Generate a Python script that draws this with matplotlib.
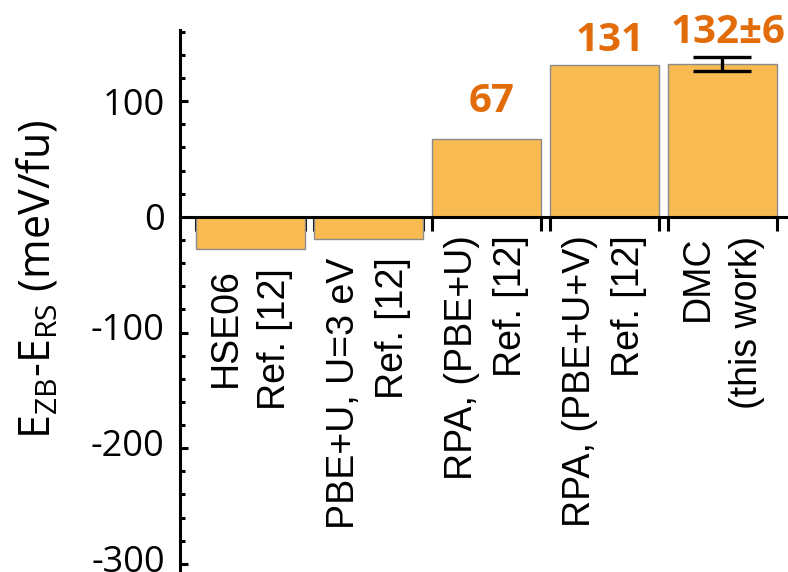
import numpy as np
import matplotlib
matplotlib.use('Agg')
from matplotlib import pyplot as plt
from matplotlib.ticker import MultipleLocator, NullFormatter
from matplotlib.transforms import ScaledTranslation

# zinc-blende vs rock-salt energy difference for each method
methods = ['HSE06\nRef. [12]',
           'PBE+U, U=3 eV\nRef. [12]',
           'RPA, (PBE+U)\nRef. [12]',
           'RPA, (PBE+U+V)\nRef. [12]',
           'DMC\n(this work)']
dE = [-28, -19, 67, 131, 132]
dE_err = [0, 0, 0, 0, 6]
value_text = [None, None, '67', '131', '132±6']

bar_color = '#F8BB52'
text_orange = '#E36C0A'

plt.rcParams['mathtext.fontset'] = 'custom'
plt.rcParams['mathtext.rm'] = 'Open Sans'
plt.rcParams['mathtext.it'] = 'Open Sans'
plt.rcParams['axes.unicode_minus'] = False

fig = plt.figure(figsize=(7.88, 5.72), dpi=100)
ax = fig.add_axes([180/788, 0, 608/788, 542/572])

x = np.arange(len(dE))
w = 0.92
ax.bar(x, dE, width=w, color=bar_color, edgecolor='#8c8c8c', linewidth=1.0, zorder=2)
ax.errorbar(x[-1], dE[-1], yerr=dE_err[-1], fmt='none', ecolor='black',
            elinewidth=2.4, capsize=21, capthick=2.4, zorder=4)

ax.set_xlim(-0.596, 4.557)
ax.set_ylim(-307, 161.5)

# axes: only left spine and a baseline through zero
for s in ['top', 'right']:
    ax.spines[s].set_visible(False)
ax.spines['bottom'].set_position(('data', 0))
ax.spines['bottom'].set_zorder(5)
ax.spines['bottom'].set_linewidth(2.2)
ax.spines['left'].set_linewidth(2.2)

# little ticks on both edges of every bar
edges = np.sort(np.concatenate([x - w/2, x + w/2]))
ax.set_xticks(edges)
ax.xaxis.set_major_formatter(NullFormatter())
ax.tick_params(axis='x', direction='out', length=10, width=2.2)

ax.yaxis.set_major_locator(MultipleLocator(100))
ax.yaxis.set_minor_locator(MultipleLocator(20))
ax.tick_params(axis='y', which='major', direction='in', length=6, width=2.2,
               labelsize=26, pad=11)
ax.tick_params(axis='y', which='minor', direction='in', length=3.5, width=2.2)

# negative labels sit a little higher than their ticks
yt = ax.get_yticks()
nudge = ScaledTranslation(0, 4/72, fig.dpi_scale_trans)
for val, tick in zip(yt, ax.yaxis.get_major_ticks(numticks=len(yt))):
    tick.label1.set_fontfamily('Open Sans')
    if val < 0:
        tick.label1.set_transform(tick.label1.get_transform() + nudge)

ax.set_ylabel(r'$\mathregular{E_{ZB}}$-$\mathregular{E_{RS}}$ (meV/fu)',
              fontsize=31, fontfamily='Open Sans')
ax.yaxis.set_label_coords(-0.196, 0.54)

# method names under the bars
for xi, v, lab in zip(x, dE, methods):
    ax.annotate(lab, xy=(xi, min(v, 0)), xytext=(0, -13.5), textcoords='offset points',
                rotation=90, ha='center', va='top', multialignment='right',
                fontsize=27, fontfamily='Liberation Sans', linespacing=1.45)

# numeric values above the bars
pads = [0, 0, 19.5, 10, 10]
for xi, v, e, txt, p in zip(x, dE, dE_err, value_text, pads):
    if txt is None:
        continue
    ax.annotate(txt, xy=(xi, v + e), xytext=(4, p), textcoords='offset points',
                ha='center', va='baseline', fontsize=29, fontweight='bold',
                fontfamily='Open Sans', color=text_orange)

fig.savefig('out.png', dpi=100)
